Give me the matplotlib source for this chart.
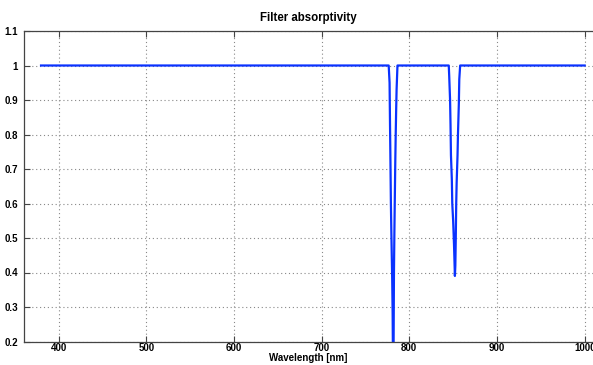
import matplotlib
matplotlib.use("Agg")
import matplotlib.pyplot as plt

# Breakpoints of the absorptivity curve (nm, value)
wavelength = [380, 776.5, 777.5, 778.0, 778.5, 779.0, 779.5, 780.0, 780.5, 781.0,
              781.5, 782.0, 782.5, 783.0, 783.5, 784.0, 784.5, 785.0, 785.5, 786.5,
              845.0, 845.5, 846.5, 847.0, 847.5, 848.5, 849.0, 850.0, 851.0, 852.0,
              852.5, 853.0, 853.5, 854.0, 855.0, 855.5, 856.5, 857.0, 858.0, 1000]
absorptivity = [1.0, 1.0, 0.95, 0.83, 0.72, 0.60, 0.52, 0.45, 0.38, 0.28,
                0.10, 0.15, 0.40, 0.52, 0.62, 0.72, 0.80, 0.87, 0.93, 1.0,
                1.0, 0.97, 0.90, 0.83, 0.74, 0.67, 0.60, 0.55, 0.48, 0.39,
                0.42, 0.50, 0.60, 0.66, 0.74, 0.80, 0.89, 0.96, 1.0, 1.0]

xticks = [400, 500, 600, 700, 800, 900, 1000]
yticks = [0.2, 0.3, 0.4, 0.5, 0.6, 0.7, 0.8, 0.9, 1.0, 1.1]
ytick_labels = ["0.2", "0.3", "0.4", "0.5", "0.6", "0.7", "0.8", "0.9", "1", "1.1"]

plt.rcParams['font.family'] = ['Liberation Sans', 'DejaVu Sans']

W, H = 593, 365
fig = plt.figure(figsize=(W / 100, H / 100), dpi=100)
left, right, top, bottom = 23.5, 593, 31, 341.5
ax = fig.add_axes([left / W, 1 - bottom / H, (right - left) / W, (bottom - top) / H])

ax.plot(wavelength, absorptivity, color='#0a32ff', lw=1.6)

ax.set_xlim(360, 1009.5)
ax.set_ylim(0.2, 1.1)
ax.set_xticks(xticks)
ax.set_yticks(yticks)
ax.set_yticklabels(ytick_labels)

ax.grid(True, linestyle=(0, (1, 2.5)), color='#888888', linewidth=0.8)
ax.set_axisbelow(True)

for side in ['left', 'bottom', 'top']:
    ax.spines[side].set_color('#444444')
    ax.spines[side].set_linewidth(0.9)
ax.spines['right'].set_visible(False)

ax.tick_params(direction='in', length=4, width=0.8, color='#444444',
               top=True, right=False, labelsize=7)
ax.tick_params(axis='y', pad=4)
ax.tick_params(axis='x', pad=1)
for lab in ax.get_xticklabels() + ax.get_yticklabels():
    lab.set_fontweight('bold')

ax.set_title('Filter absorptivity', fontsize=8.3, fontweight='bold', pad=7)
ax.set_xlabel('Wavelength [nm]', fontsize=7, fontweight='bold', labelpad=0)

fig.savefig('out.png', dpi=100)
